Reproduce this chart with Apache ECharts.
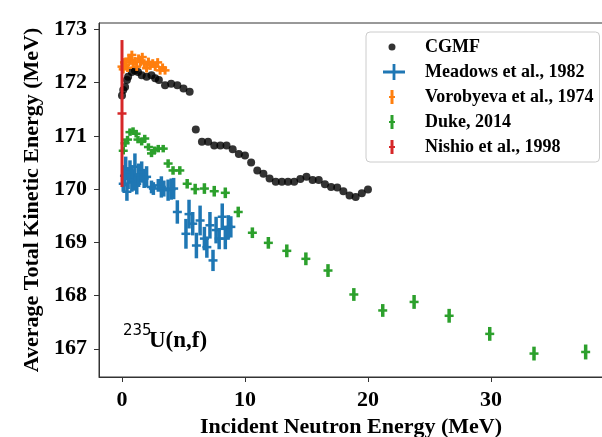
<!DOCTYPE html>
<html>
<head>
<meta charset="utf-8">
<script src="https://cdn.jsdelivr.net/npm/echarts@6/dist/echarts.min.js"></script>
<style>html,body{margin:0;padding:0;background:#fff}#c{width:602px;height:437px}</style>
</head>
<body>
<div id="c"></div>
<script>
// ---- data ----
const xTicks = [0, 10, 20, 30];
const yTicks = [167, 168, 169, 170, 171, 172, 173];

const cgmfX = [0.0,0.1,0.25,0.4,0.5,0.8,1.05,1.3,1.6,2.0,2.4,2.7,3.0,3.5,4.0,4.5,5.0,5.5,6.0,6.5,7.0,7.5,8.0,8.5,9.0,9.5,10.0,10.5,11.0,11.5,12.0,12.5,13.0,13.5,14.0,14.5,15.0,15.5,16.0,16.5,17.0,17.5,18.0,18.5,19.0,19.5,20.0];
const cgmfY = [171.76,171.86,171.92,172.05,172.11,172.2,172.23,172.2,172.14,172.11,172.14,172.08,172.05,171.95,171.98,171.95,171.89,171.83,171.12,170.89,170.89,170.82,170.82,170.82,170.75,170.66,170.63,170.5,170.35,170.29,170.2,170.14,170.14,170.14,170.14,170.19,170.23,170.17,170.17,170.09,170.04,170.03,169.96,169.88,169.85,169.92,169.99];

const meadowsX = [0.1,0.2,0.3,0.4,0.5,0.65,0.8,0.95,1.05,1.2,1.35,1.6,1.8,2.0,2.4,2.55,2.95,3.2,3.4,3.75,4.0,4.2,4.5,5.2,5.45,5.75,6.05,6.35,6.7,6.9,7.15,7.4,7.65,7.9,8.15,8.4,8.65,8.85];
const meadowsY = [170.1,170.25,170.39,169.95,170.2,170.32,170.2,170.17,170.42,170.1,170.26,170.32,170.2,170.23,170.04,170.01,170.07,170.04,170.01,169.98,170.0,170.01,169.57,169.16,169.53,169.35,168.94,169.41,169.07,168.91,169.32,168.66,169.23,169.07,169.48,169.07,169.29,169.29];
const meadowsErr = [0.15,0.2,0.22,0.17,0.2,0.22,0.25,0.2,0.25,0.2,0.22,0.2,0.18,0.2,0.12,0.12,0.12,0.2,0.15,0.2,0.2,0.2,0.22,0.28,0.27,0.22,0.24,0.28,0.22,0.2,0.25,0.2,0.25,0.2,0.25,0.2,0.22,0.2];

const vorobX = [0.0,0.1,0.2,0.3,0.45,0.55,0.65,0.8,0.9,1.05,1.2,1.35,1.5,1.65,1.8,2.0,2.15,2.3,2.5,2.7,2.9,3.1,3.3,3.5];
const vorobY = [172.3,172.25,172.38,172.33,172.28,172.45,172.42,172.52,172.36,172.4,172.3,172.45,172.39,172.48,172.36,172.27,172.39,172.32,172.36,172.3,172.38,172.23,172.28,172.23];
const vorobErr = [0.08,0.08,0.08,0.08,0.08,0.08,0.08,0.08,0.08,0.08,0.08,0.08,0.08,0.08,0.08,0.08,0.08,0.08,0.08,0.08,0.08,0.08,0.08,0.08];

const dukeX = [0.1,0.25,0.45,0.65,0.9,1.15,1.3,1.6,1.85,2.15,2.4,2.65,2.95,3.35,3.75,4.15,4.7,5.3,5.95,6.7,7.5,8.4,9.45,10.6,11.9,13.4,14.95,16.75,18.85,21.2,23.75,26.6,29.9,33.5,37.7];
const dukeY = [170.72,170.86,170.93,171.07,171.09,171.04,170.93,170.89,170.95,170.79,170.67,170.73,170.76,170.76,170.48,170.35,170.35,170.1,170.0,170.01,169.96,169.93,169.57,169.18,168.99,168.84,168.69,168.47,168.02,167.72,167.88,167.62,167.28,166.91,166.94];
const dukeErr = [0.07,0.07,0.07,0.07,0.07,0.07,0.07,0.07,0.07,0.07,0.07,0.07,0.07,0.07,0.08,0.08,0.08,0.09,0.1,0.1,0.1,0.1,0.1,0.1,0.11,0.12,0.12,0.12,0.12,0.12,0.13,0.13,0.13,0.13,0.14];

const nishioX = [0.0];
const nishioY = [171.42];
const nishioErr = [1.38];

// ---- helpers ----
function pack(xs, ys, es) { return xs.map((x, i) => [x, ys[i], es ? es[i] : 0]); }

function errRender(color, lw, halfW, hlw) {
  return function (params, api) {
    const x = api.value(0), y = api.value(1), e = api.value(2);
    const t = api.coord([x, y + e]);
    const b = api.coord([x, y - e]);
    const c = api.coord([x, y]);
    return {
      type: 'group',
      children: [
        { type: 'line', shape: { x1: t[0], y1: t[1], x2: b[0], y2: b[1] }, style: { stroke: color, lineWidth: lw } },
        { type: 'line', shape: { x1: c[0] - halfW, y1: c[1], x2: c[0] + halfW, y2: c[1] }, style: { stroke: color, lineWidth: hlw } }
      ]
    };
  };
}

const corners = 'M0,0L0.01,0L0,0.01Z M44,16L43.99,16L44,15.99Z ';
const iconDot = 'path://' + corners + 'M12.5,8A3.5,3.5 0 1 0 19.5,8A3.5,3.5 0 1 0 12.5,8Z';
const iconPlus = 'path://' + corners + 'M7,6.6H29V9.4H7Z M16.6,0H19.4V16H16.6Z';
const iconErr = 'path://' + corners + 'M14.5,1H17.5V15H14.5Z M13,7H19V9H13Z';

const FONT = 'Liberation Serif';
const BLUE = '#1f77b4', ORANGE = '#ff7f0e', GREEN = '#2ca02c', RED = '#d62728';

const chart = echarts.init(document.getElementById('c'), null, { renderer: 'canvas' });
chart.setOption({
  animation: false,
  backgroundColor: '#fff',
  grid: { left: 99, top: 23, width: 504, height: 354, show: true, borderColor: '#333', borderWidth: 1, outerBoundsMode: 'none' },
  xAxis: {
    type: 'value', min: -1.87, max: 39.11,
    name: 'Incident Neutron Energy (MeV)', nameLocation: 'middle', nameGap: 36,
    nameTextStyle: { fontFamily: FONT, fontWeight: 'bold', fontSize: 22, color: '#000' },
    axisLine: { show: true, onZero: false, lineStyle: { color: '#333', width: 1 } },
    axisTick: { show: true, customValues: xTicks, length: 5, lineStyle: { color: '#333' } },
    axisLabel: { customValues: xTicks, margin: 12, fontFamily: FONT, fontWeight: 'bold', fontSize: 22, color: '#000' },
    splitLine: { show: false }
  },
  yAxis: {
    type: 'value', min: 166.47, max: 173.12,
    name: 'Average Total Kinetic Energy (MeV)', nameLocation: 'middle', nameGap: 54, nameRotate: 90,
    nameTextStyle: { fontFamily: FONT, fontWeight: 'bold', fontSize: 22, color: '#000' },
    axisLine: { show: true, onZero: false, lineStyle: { color: '#333', width: 1 } },
    axisTick: { show: true, customValues: yTicks, length: 5, lineStyle: { color: '#333' } },
    axisLabel: { customValues: yTicks, margin: 12, fontFamily: FONT, fontWeight: 'bold', fontSize: 22, color: '#000', formatter: v => String(Math.round(v)) },
    splitLine: { show: false }
  },
  legend: {
    orient: 'vertical', left: 366, top: 32, padding: [6, 6, 6, 10], itemGap: 7,
    itemWidth: 44, itemHeight: 16,
    borderColor: '#cccccc', borderWidth: 1, borderRadius: 4, backgroundColor: '#fff',
    textStyle: { fontFamily: FONT, fontWeight: 'bold', fontSize: 18, color: '#000' },
    data: [
      { name: 'CGMF', icon: iconDot },
      { name: 'Meadows et al., 1982', icon: iconPlus },
      { name: 'Vorobyeva et al., 1974', icon: iconErr },
      { name: 'Duke, 2014', icon: iconErr },
      { name: 'Nishio et al., 1998', icon: iconErr }
    ]
  },
  graphic: [
    { type: 'text', left: 123, top: 324, style: { text: '235', fontFamily: 'DejaVu Sans', fontSize: 15, fill: '#000' } },
    { type: 'text', left: 149, top: 330, style: { text: 'U(n,f)', fontFamily: FONT, fontWeight: 'bold', fontSize: 23, fill: '#000' } }
  ],
  series: [
    { name: 'CGMF', type: 'scatter', z: 2, symbol: 'circle', symbolSize: 8, itemStyle: { color: '#000' }, data: pack(cgmfX, cgmfY) },
    { name: 'Meadows et al., 1982', type: 'custom', z: 3, itemStyle: { color: BLUE }, renderItem: errRender(BLUE, 3.5, 4.5, 2.5), data: pack(meadowsX, meadowsY, meadowsErr), encode: { x: 0, y: 1 } },
    { name: 'Vorobyeva et al., 1974', type: 'custom', z: 4, itemStyle: { color: ORANGE }, renderItem: errRender(ORANGE, 3, 4.5, 2.5), data: pack(vorobX, vorobY, vorobErr), encode: { x: 0, y: 1 } },
    { name: 'Duke, 2014', type: 'custom', z: 5, itemStyle: { color: GREEN }, renderItem: errRender(GREEN, 3.5, 4.5, 2.5), data: pack(dukeX, dukeY, dukeErr), encode: { x: 0, y: 1 } },
    { name: 'Nishio et al., 1998', type: 'custom', z: 6, itemStyle: { color: RED }, renderItem: errRender(RED, 3, 4.5, 2.5), data: pack(nishioX, nishioY, nishioErr), encode: { x: 0, y: 1 } }
  ]
});
</script>
</body>
</html>
